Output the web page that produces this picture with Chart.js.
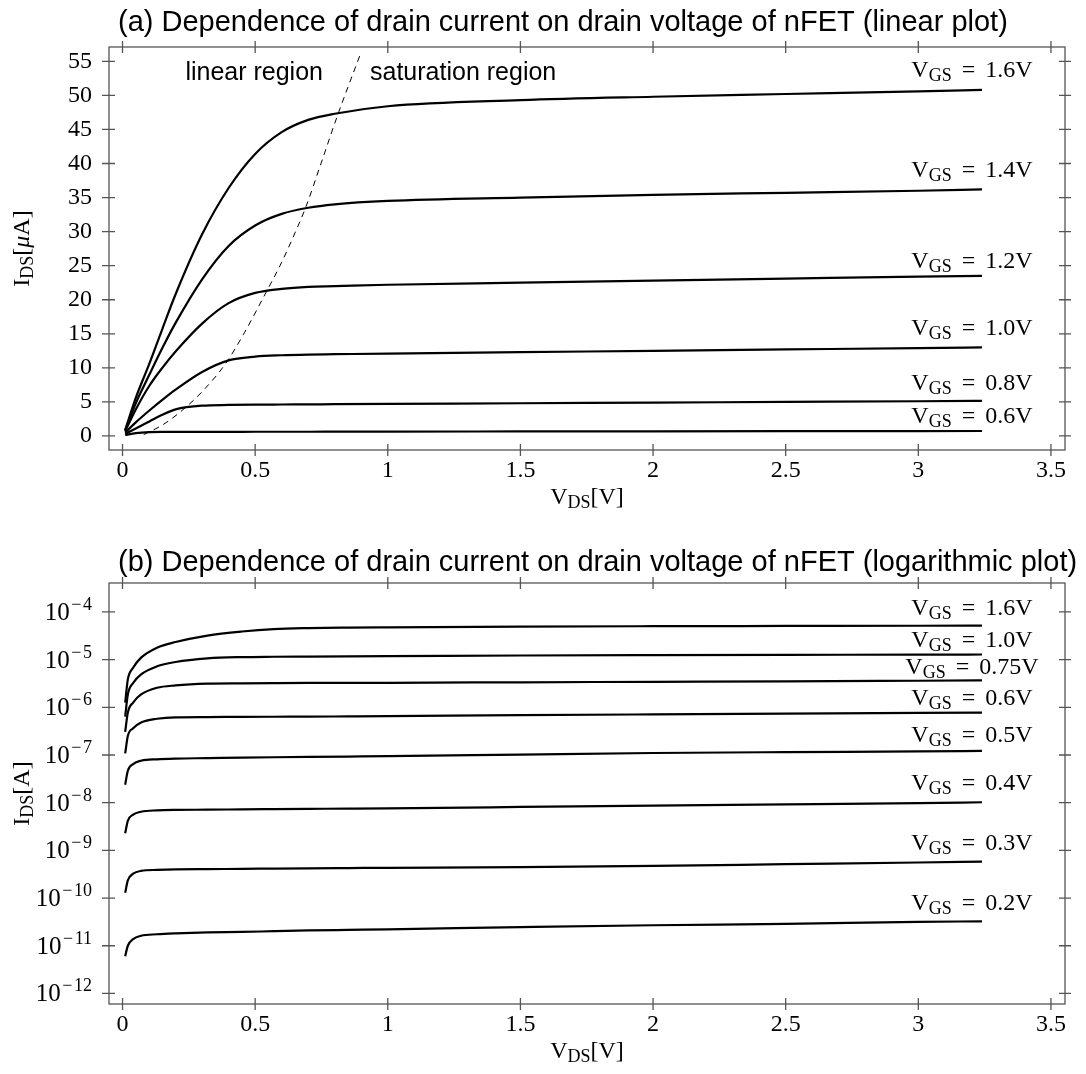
<!DOCTYPE html>
<html>
<head>
<meta charset="utf-8">
<script src="https://cdn.jsdelivr.net/npm/chart.js@4"></script>
<style>
  html, body { margin: 0; padding: 0; background: #fff; }
  canvas { display: block; }
</style>
</head>
<body>
<canvas id="linChart" width="1086" height="520"></canvas>
<canvas id="logChart" width="1086" height="554"></canvas>
<script>
// ---- (a) linear plot, I_DS in uA ----
const vdsLin = [0.01, 0.05, 0.1, 0.15, 0.2, 0.3, 0.4, 0.5, 0.6, 0.7, 0.8, 1.0, 1.5, 2.0, 2.5, 3.0, 3.24];
const vgsLin = ['1.6', '1.4', '1.2', '1.0', '0.8', '0.6'];
const idsLin16 = [0.9, 5.6, 10.5, 15.7, 20.8, 29.6, 36.4, 41.4, 44.6, 46.4, 47.3, 48.4, 49.3, 49.8, 50.2, 50.6, 50.8];
const idsLin14 = [0.8, 4.8, 8.9, 12.9, 16.6, 23.0, 27.9, 30.9, 32.6, 33.5, 34.0, 34.5, 35.0, 35.4, 35.7, 36.0, 36.2];
const idsLin12 = [0.7, 3.9, 7.3, 10.0, 12.4, 16.5, 19.5, 21.0, 21.6, 21.9, 22.0, 22.2, 22.5, 22.8, 23.1, 23.4, 23.5];
const idsLin10 = [0.5, 2.0, 3.7, 5.3, 6.8, 9.4, 11.1, 11.65, 11.85, 11.95, 12.0, 12.1, 12.3, 12.5, 12.7, 12.9, 13.0];
const idsLin08 = [0.3, 1.1, 2.1, 3.1, 3.9, 4.45, 4.55, 4.6, 4.62, 4.64, 4.66, 4.7, 4.8, 4.9, 5.0, 5.1, 5.15];
const idsLin06 = [0.15, 0.42, 0.57, 0.6, 0.6, 0.61, 0.61, 0.62, 0.62, 0.62, 0.63, 0.64, 0.66, 0.68, 0.7, 0.72, 0.73];
// boundary linear / saturation (dashed)
const vdsSat = [0.08, 0.15, 0.22, 0.3, 0.39, 0.46, 0.54, 0.6, 0.65, 0.69, 0.75, 0.81, 0.9];
const idsSat = [0.2, 1.6, 3.6, 6.5, 10.7, 15.2, 21.0, 25.5, 29.8, 33.5, 40.2, 47.0, 56.4];

// ---- (b) logarithmic plot, I_DS in A ----
const vdsLog = [0.01, 0.02, 0.04, 0.07, 0.13, 0.2, 0.32, 0.45, 0.57, 0.7, 0.85, 1.0, 1.5, 2.0, 2.5, 3.0, 3.24];
const vgsLog = ['1.6', '1.0', '0.75', '0.6', '0.5', '0.4', '0.3', '0.2'];
const idsLog16 = [1.25e-6, 3.85e-6, 6.76e-6, 1.10e-5, 1.78e-5, 2.34e-5, 3.20e-5, 3.89e-5, 4.37e-5, 4.59e-5, 4.70e-5, 4.76e-5, 4.92e-5, 5.02e-5, 5.08e-5, 5.14e-5, 5.18e-5];
const idsLog10 = [6.38e-7, 1.86e-6, 3.24e-6, 4.90e-6, 7.24e-6, 8.91e-6, 1.06e-5, 1.13e-5, 1.15e-5, 1.16e-5, 1.17e-5, 1.18e-5, 1.22e-5, 1.245e-5, 1.26e-5, 1.27e-5, 1.28e-5];
const idsLog075 = [3.04e-7, 7.76e-7, 1.26e-6, 1.86e-6, 2.57e-6, 2.88e-6, 3.13e-6, 3.18e-6, 3.21e-6, 3.24e-6, 3.26e-6, 3.27e-6, 3.35e-6, 3.43e-6, 3.51e-6, 3.61e-6, 3.66e-6];
const idsLog06 = [1.08e-7, 2.51e-7, 3.63e-7, 4.79e-7, 5.75e-7, 6.17e-7, 6.24e-7, 6.31e-7, 6.34e-7, 6.37e-7, 6.45e-7, 6.53e-7, 6.84e-7, 7.11e-7, 7.36e-7, 7.62e-7, 7.74e-7];
const idsLog05 = [2.38e-8, 4.68e-8, 6.46e-8, 7.59e-8, 8.13e-8, 8.41e-8, 8.59e-8, 8.81e-8, 8.97e-8, 9.12e-8, 9.28e-8, 9.44e-8, 1.02e-7, 1.10e-7, 1.15e-7, 1.19e-7, 1.22e-7];
const idsLog04 = [2.29e-9, 4.17e-9, 5.62e-9, 6.46e-9, 6.92e-9, 7.08e-9, 7.13e-9, 7.24e-9, 7.32e-9, 7.41e-9, 7.51e-9, 7.62e-9, 8.13e-9, 8.71e-9, 9.23e-9, 9.82e-9, 1.02e-8];
const idsLog03 = [1.29e-10, 2.34e-10, 3.24e-10, 3.72e-10, 3.89e-10, 3.98e-10, 4.04e-10, 4.09e-10, 4.15e-10, 4.21e-10, 4.26e-10, 4.31e-10, 4.47e-10, 4.73e-10, 5.13e-10, 5.56e-10, 5.83e-10];
const idsLog02 = [6.0e-12, 1.0e-11, 1.38e-11, 1.62e-11, 1.74e-11, 1.82e-11, 1.91e-11, 1.95e-11, 2.02e-11, 2.09e-11, 2.15e-11, 2.21e-11, 2.45e-11, 2.69e-11, 2.88e-11, 3.16e-11, 3.25e-11];

// ticks
const xTicks = [0, 0.5, 1, 1.5, 2, 2.5, 3, 3.5];
const yTicksLin = [0, 5, 10, 15, 20, 25, 30, 35, 40, 45, 50, 55];
const logExps = [-12, -11, -10, -9, -8, -7, -6, -5, -4];

const SERIF = '"Liberation Serif", "DejaVu Serif", serif';
const SANS = '"Liberation Sans", Arial, sans-serif';

// draw a row of text pieces: [text, kind, extraGap]; kind n=normal s=sub p=sup i=italic b=big
function drawPieces(ctx, parts, x, y, align) {
  const fontFor = k => k === 's' ? `18px ${SERIF}` : k === 'p' ? `18px ${SERIF}` : k === 'i' ? `italic 24px ${SERIF}` : k === 'b' ? `25px ${SERIF}` : `24px ${SERIF}`;
  const widths = parts.map(([t, k, g]) => { ctx.font = fontFor(k); return ctx.measureText(t).width + (g || 0); });
  const total = widths.reduce((a, b) => a + b, 0);
  let cx = align === 'center' ? x - total / 2 : align === 'right' ? x - total : x;
  ctx.textAlign = 'left';
  ctx.textBaseline = 'alphabetic';
  parts.forEach(([t, k, g], i) => {
    ctx.font = fontFor(k);
    const dy = k === 's' ? 4 : k === 'p' ? -10 : 0;
    ctx.fillText(t, cx + (g || 0) / 2, y + dy);
    cx += widths[i];
  });
}

const framePlugin = {
  id: 'frame',
  beforeDatasetsDraw(chart) {
    const { ctx, chartArea: a } = chart;
    const xs = chart.scales.x, ys = chart.scales.y;
    ctx.save();
    ctx.strokeStyle = '#555';
    ctx.lineWidth = 1.3;
    ctx.strokeRect(a.left, a.top, a.right - a.left, a.bottom - a.top);
    ctx.beginPath();
    xs.ticks.forEach(t => {
      const p = xs.getPixelForValue(t.value);
      ctx.moveTo(p, a.bottom - 6); ctx.lineTo(p, a.bottom + 6);
      ctx.moveTo(p, a.top - 6); ctx.lineTo(p, a.top + 6);
    });
    ys.ticks.forEach(t => {
      const p = ys.getPixelForValue(t.value);
      ctx.moveTo(a.left - 7, p); ctx.lineTo(a.left + 6, p);
      ctx.moveTo(a.right - 6, p); ctx.lineTo(a.right + 6, p);
    });
    ctx.stroke();
    ctx.restore();
  }
};

const textPlugin = {
  id: 'texts',
  afterDraw(chart, args, o) {
    const { ctx, chartArea: a } = chart;
    const xs = chart.scales.x, ys = chart.scales.y;
    ctx.save();
    ctx.fillStyle = '#000';
    // title
    ctx.font = `29px ${SANS}`;
    ctx.textAlign = 'left';
    ctx.textBaseline = 'alphabetic';
    ctx.fillText(o.title, a.left + 9, a.top - o.titleGap);
    // axis titles
    drawPieces(ctx, [['V', 'n'], ['DS', 's'], ['[V]', 'n']], (a.left + a.right) / 2, a.bottom + 54, 'center');
    ctx.save();
    ctx.translate(29, (a.top + a.bottom) / 2);
    ctx.rotate(-Math.PI / 2);
    drawPieces(ctx, o.yTitle, 0, 0, 'center');
    ctx.restore();
    // log tick labels
    if (o.logTicks) {
      ys.ticks.forEach(t => {
        const p = ys.getPixelForValue(t.value);
        const e = Math.round(Math.log10(t.value));
        drawPieces(ctx, [['10', 'b'], ['\u2212', 'p', 3], [String(Math.abs(e)), 'p']], 92, p + 8, 'right');
      });
    }
    // curve labels
    o.vgs.forEach((v, i) => {
      const d = chart.data.datasets[i].data;
      const last = d[d.length - 1];
      const px = xs.getPixelForValue(last.x) - 10;
      const py = ys.getPixelForValue(last.y) - o.dy[i];
      drawPieces(ctx, [['V', 'n'], ['GS', 's'], ['=', 'n', 20], [v + 'V', 'n']], px, py, 'center');
    });
    // region notes
    (o.notes || []).forEach(n => {
      ctx.font = `25px ${SANS}`;
      ctx.textAlign = 'left';
      ctx.fillText(n.text, xs.getPixelForValue(n.x), ys.getPixelForValue(n.y));
    });
    ctx.restore();
  }
};

function curve(xv, yv) {
  return {
    data: xv.map((v, i) => ({ x: v, y: yv[i] })),
    borderColor: '#000',
    borderWidth: 2.2,
    pointRadius: 0,
    fill: false,
    cubicInterpolationMode: 'monotone'
  };
}

function xScale() {
  return {
    type: 'linear', min: -0.051, max: 3.553,
    afterFit: s => { s.height = 70; },
    afterBuildTicks: s => { s.ticks = xTicks.map(v => ({ value: v })); },
    grid: { display: false, drawTicks: false },
    border: { display: false },
    ticks: { color: '#000', font: { family: SERIF, size: 24 }, padding: 6, maxRotation: 0, autoSkip: false, callback: v => String(v) }
  };
}

const dashed = curve(vdsSat, idsSat);
dashed.borderWidth = 1;
dashed.borderDash = [6, 5];

new Chart(document.getElementById('linChart'), {
  type: 'line',
  data: {
    datasets: [
      curve(vdsLin, idsLin16), curve(vdsLin, idsLin14), curve(vdsLin, idsLin12),
      curve(vdsLin, idsLin10), curve(vdsLin, idsLin08), curve(vdsLin, idsLin06),
      dashed
    ]
  },
  options: {
    responsive: false,
    animation: false,
    layout: { padding: { top: 47, right: 21, left: 0, bottom: 0 } },
    plugins: {
      legend: { display: false },
      tooltip: { enabled: false },
      texts: {
        title: '(a) Dependence of drain current on drain voltage of nFET (linear plot)',
        titleGap: 16,
        yTitle: [['I', 'n'], ['DS', 's'], ['[', 'n'], ['\u03bc', 'i'], ['A]', 'n']],
        vgs: vgsLin,
        dy: [13, 12, 8, 12, 11, 8],
        notes: [{ text: 'linear region', x: 0.237, y: 52.3 }, { text: 'saturation region', x: 0.933, y: 52.3 }]
      }
    },
    scales: {
      x: xScale(),
      y: {
        type: 'linear', min: -2.06, max: 57.1,
        afterFit: s => { s.width = 109; },
        afterBuildTicks: s => { s.ticks = yTicksLin.map(v => ({ value: v })); },
        grid: { display: false, drawTicks: false },
        border: { display: false },
        ticks: { color: '#000', font: { family: SERIF, size: 24 }, padding: 17, autoSkip: false, callback: v => String(v) }
      }
    }
  },
  plugins: [framePlugin, textPlugin]
});

new Chart(document.getElementById('logChart'), {
  type: 'line',
  data: {
    datasets: [
      curve(vdsLog, idsLog16), curve(vdsLog, idsLog10), curve(vdsLog, idsLog075), curve(vdsLog, idsLog06),
      curve(vdsLog, idsLog05), curve(vdsLog, idsLog04), curve(vdsLog, idsLog03), curve(vdsLog, idsLog02)
    ]
  },
  options: {
    responsive: false,
    animation: false,
    layout: { padding: { top: 63, right: 21, left: 0, bottom: 0 } },
    plugins: {
      legend: { display: false },
      tooltip: { enabled: false },
      texts: {
        title: '(b) Dependence of drain current on drain voltage of nFET (logarithmic plot)',
        titleGap: 12,
        yTitle: [['I', 'n'], ['DS', 's'], ['[A]', 'n']],
        logTicks: true,
        vgs: vgsLog,
        dy: [11, 8, 6, 8, 9, 12, 12, 11]
      }
    },
    scales: {
      x: xScale(),
      y: {
        type: 'logarithmic', min: Math.pow(10, -12.19), max: Math.pow(10, -3.393),
        afterFit: s => { s.width = 109; },
        afterBuildTicks: s => { s.ticks = logExps.map(e => ({ value: Math.pow(10, e) })); },
        grid: { display: false, drawTicks: false },
        border: { display: false },
        ticks: { display: false }
      }
    }
  },
  plugins: [framePlugin, textPlugin]
});
</script>
</body>
</html>
